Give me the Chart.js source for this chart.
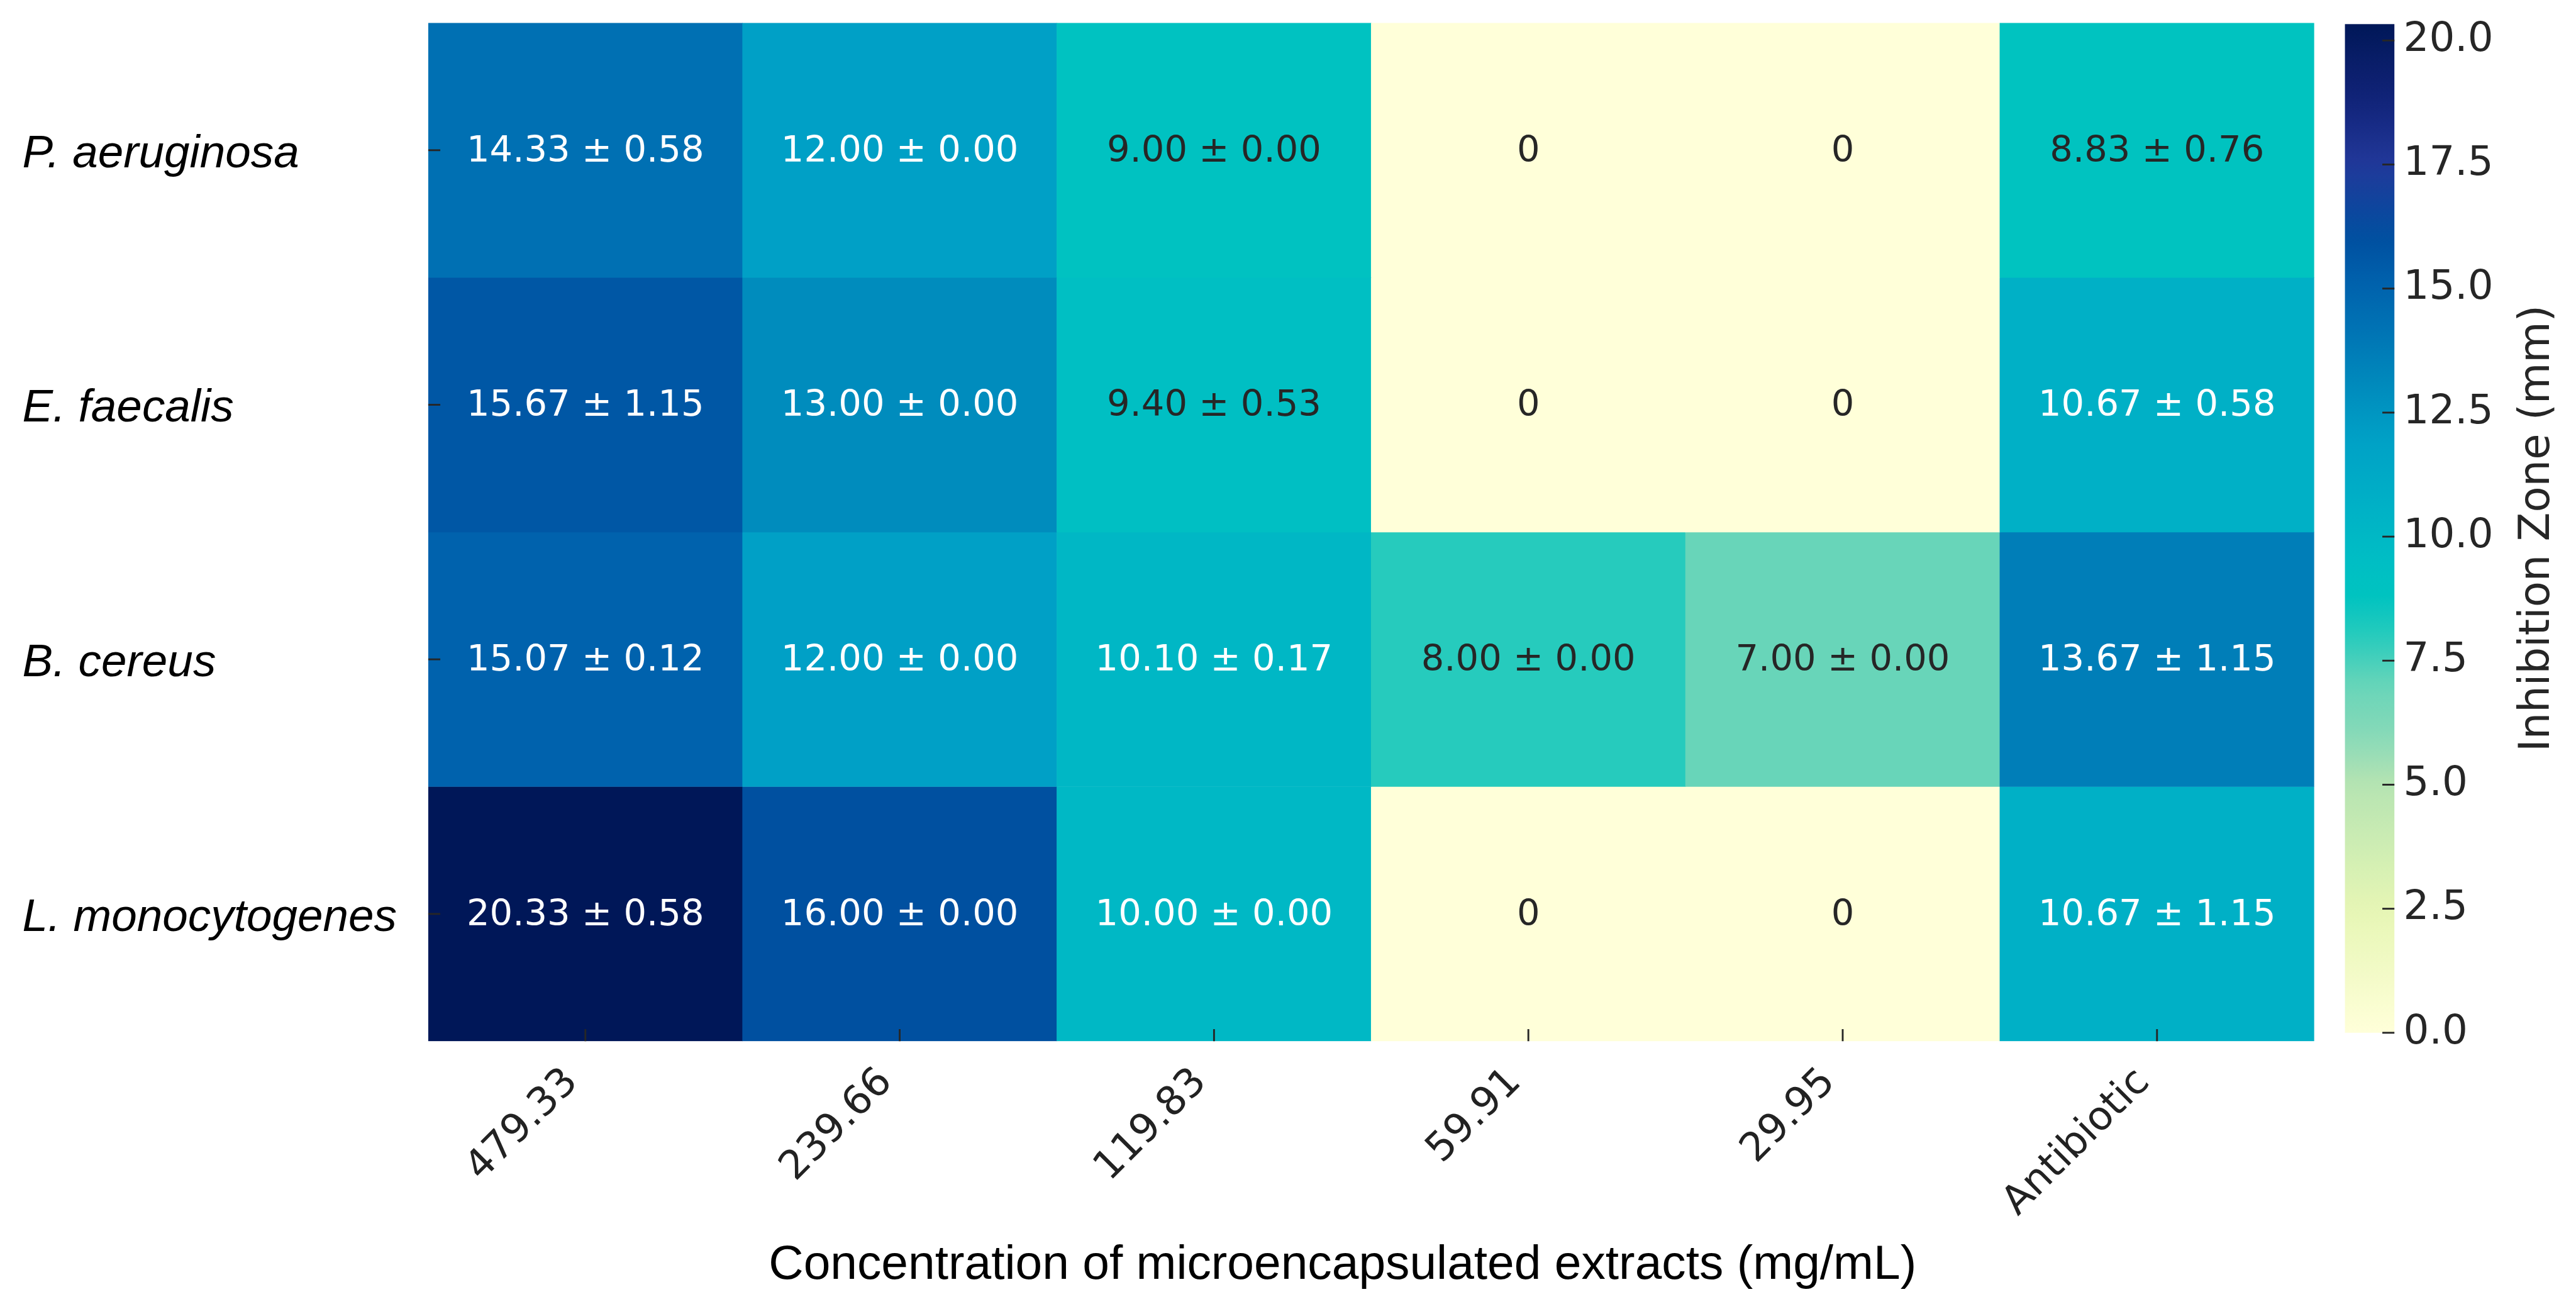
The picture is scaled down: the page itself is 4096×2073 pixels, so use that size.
<!DOCTYPE html>
<html>
<head>
<meta charset="utf-8">
<script src="https://cdn.jsdelivr.net/npm/chart.js"></script>
<style>
	html, body { margin: 0; padding: 0; background: #ffffff; }
	canvas { display: block; }
</style>
</head>
<body>
<canvas id="heatmap" width="4096" height="2073"></canvas>
<script>
// Rows and columns of the heatmap
const strains = ["P. aeruginosa", "E. faecalis", "B. cereus", "L. monocytogenes"];
const concentrations = ["479.33", "239.66", "119.83", "59.91", "29.95", "Antibiotic"];

// Inhibition zone means (mm), one array per strain
const meanPa = [14.33, 12.00, 9.00, 0, 0, 8.83];
const meanEf = [15.67, 13.00, 9.40, 0, 0, 10.67];
const meanBc = [15.07, 12.00, 10.10, 8.00, 7.00, 13.67];
const meanLm = [20.33, 16.00, 10.00, 0, 0, 10.67];

// Standard deviations (null where no zone was measured)
const sdPa = [0.58, 0.00, 0.00, null, null, 0.76];
const sdEf = [1.15, 0.00, 0.53, null, null, 0.58];
const sdBc = [0.12, 0.00, 0.17, 0.00, 0.00, 1.15];
const sdLm = [0.58, 0.00, 0.00, null, null, 1.15];

// Colorbar tick values
const colorbarTicks = [0, 2.5, 5, 7.5, 10, 12.5, 15, 17.5, 20];

const means = [meanPa, meanEf, meanBc, meanLm];
const sds = [sdPa, sdEf, sdBc, sdLm];
const vmax = Math.max(...means.flat());

// everything is laid out in reference pixels, then scaled
const S = 0.959;
const W = 4096, H = 2073;
const area = { left: 710 * S, right: 3837 * S, top: 38 * S, bottom: 1726 * S };
const tickLen = 20 * S;

// colormap (value -> rgb), close to the picture's yellow-green-blue
const colorStops = [
	[0, [255, 255, 217]],
	[2.5, [230, 246, 180]],
	[5, [182, 228, 178]],
	[6, [135, 217, 184]],
	[7, [104, 213, 185]],
	[8, [38, 203, 189]],
	[8.8, [0, 195, 192]],
	[9.5, [0, 190, 196]],
	[10.5, [0, 178, 198]],
	[12, [0, 160, 198]],
	[13, [0, 140, 189]],
	[14.33, [0, 112, 179]],
	[15.2, [0, 96, 172]],
	[16, [0, 80, 160]],
	[17.5, [33, 56, 154]],
	[18.75, [18, 36, 122]],
	[20.33, [0, 23, 88]],
];

function rgbFor(v) {
	if (v <= colorStops[0][0]) return colorStops[0][1];
	for (let i = 1; i < colorStops.length; i++) {
		const [v1, c1] = colorStops[i];
		const [v0, c0] = colorStops[i - 1];
		if (v <= v1) {
			const t = (v - v0) / (v1 - v0);
			return c0.map((c, k) => Math.round(c + (c1[k] - c) * t));
		}
	}
	return colorStops[colorStops.length - 1][1];
}

function colorFor(v) {
	const c = rgbFor(v);
	return `rgb(${c[0]}, ${c[1]}, ${c[2]})`;
}

function luminance(c) {
	const lin = c.map((x) => {
		x = x / 255;
		return x <= 0.03928 ? x / 12.92 : Math.pow((x + 0.055) / 1.055, 2.4);
	});
	return 0.2126 * lin[0] + 0.7152 * lin[1] + 0.0722 * lin[2];
}

function cellText(m, sd) {
	if (sd === null) return "0";
	return `${m.toFixed(2)} \u00b1 ${sd.toFixed(2)}`;
}

// vertical axes: no extra room above/below the plot for their labels
function noEdgePadding(scale) {
	scale.paddingTop = 0;
	scale.paddingBottom = 0;
}

function tickLine(ctx, x1, y1, x2, y2) {
	ctx.beginPath();
	ctx.moveTo(x1, y1);
	ctx.lineTo(x2, y2);
	ctx.stroke();
}

// extra text: annotations, colorbar, rotated labels, axis titles
const heatmapExtras = {
	id: "heatmapExtras",
	afterDraw(chart) {
		const ctx = chart.ctx;
		const x = chart.scales.x;
		const y = chart.scales.y;
		const cb = chart.scales.cb;
		const ca = chart.chartArea;

		// small tick marks, drawn over the cells
		ctx.save();
		ctx.strokeStyle = "#262626";
		ctx.lineWidth = 3 * S;
		concentrations.forEach((c, j) => {
			const tx = x.getPixelForValue(j);
			tickLine(ctx, tx, ca.bottom - tickLen, tx, ca.bottom);
		});
		strains.forEach((s, r) => {
			const ty = y.getPixelForValue(r + 0.5);
			tickLine(ctx, ca.left, ty, ca.left + tickLen, ty);
		});
		ctx.restore();

		// cell annotations
		ctx.save();
		ctx.textAlign = "center";
		ctx.textBaseline = "middle";
		ctx.font = `${60 * S}px "DejaVu Sans"`;
		means.forEach((row, r) => {
			row.forEach((m, j) => {
				ctx.fillStyle = luminance(rgbFor(m)) > 0.4 ? "#262626" : "#ffffff";
				ctx.fillText(cellText(m, sds[r][j]), x.getPixelForValue(j), y.getPixelForValue(r + 0.5) + 3 * S);
			});
		});
		ctx.restore();

		// colorbar
		const cbLeft = 3888 * S, cbRight = 3970 * S;
		const y0 = cb.getPixelForValue(0);
		const y1 = cb.getPixelForValue(vmax);
		const grad = ctx.createLinearGradient(0, y0, 0, y1);
		for (let i = 0; i <= 60; i++) {
			grad.addColorStop(i / 60, colorFor((vmax * i) / 60));
		}
		ctx.save();
		ctx.fillStyle = grad;
		ctx.fillRect(cbLeft, y1, cbRight - cbLeft, y0 - y1);
		ctx.strokeStyle = "#262626";
		ctx.lineWidth = 3 * S;
		colorbarTicks.forEach((t) => {
			const ty = cb.getPixelForValue(t);
			tickLine(ctx, cbRight - tickLen, ty, cbRight, ty);
		});

		// colorbar label
		ctx.translate(4226 * S, (y0 + y1) / 2);
		ctx.rotate(-Math.PI / 2);
		ctx.fillStyle = "#262626";
		ctx.font = `${70 * S}px "DejaVu Sans"`;
		ctx.textAlign = "center";
		ctx.textBaseline = "alphabetic";
		ctx.fillText("Inhibition Zone (mm)", 0, 0);
		ctx.restore();

		// rotated column labels
		ctx.save();
		ctx.fillStyle = "#222222";
		ctx.font = `${66 * S}px "DejaVu Sans"`;
		ctx.textAlign = "right";
		ctx.textBaseline = "alphabetic";
		concentrations.forEach((label, j) => {
			ctx.save();
			ctx.translate(x.getPixelForValue(j) - 10 * S, 1796 * S);
			ctx.rotate(-Math.PI / 4);
			ctx.fillText(label, 0, 0);
			ctx.restore();
		});
		ctx.restore();

		// x axis title
		ctx.save();
		ctx.fillStyle = "#000000";
		ctx.font = `${80 * S}px "Liberation Sans"`;
		ctx.textAlign = "center";
		ctx.textBaseline = "alphabetic";
		ctx.fillText("Concentration of microencapsulated extracts (mg/mL)", 2226 * S, 2120 * S);
		ctx.restore();
	},
};

const ctx = document.getElementById("heatmap").getContext("2d");

const chart = new Chart(ctx, {
	type: "bar",
	data: {
		labels: concentrations,
		datasets: strains.map((s, r) => ({
			label: s,
			data: concentrations.map(() => [r, r + 1]),
			backgroundColor: means[r].map(colorFor),
			borderWidth: 0,
			grouped: false,
			barPercentage: 1,
			categoryPercentage: 1,
		})),
	},
	options: {
		responsive: false,
		animation: false,
		devicePixelRatio: 1,
		layout: {
			padding: { left: 37 * S, top: area.top, right: 0, bottom: 0 },
		},
		plugins: {
			legend: { display: false },
			tooltip: { enabled: false },
		},
		scales: {
			x: {
				type: "category",
				offset: true,
				border: { display: false },
				grid: { display: false, drawTicks: false },
				ticks: { display: false },
				afterFit: (scale) => {
					scale.height = H - area.bottom;
					scale.paddingLeft = 0;
					scale.paddingRight = 0;
				},
			},
			y: {
				type: "linear",
				position: "left",
				min: 0,
				max: strains.length,
				reverse: true,
				stacked: false,
				border: { display: false },
				grid: { display: false, drawTicks: false },
				afterBuildTicks: (axis) => {
					axis.ticks = strains.map((s, i) => ({ value: i + 0.5 }));
				},
				ticks: {
					autoSkip: false,
					crossAlign: "far",
					labelOffset: 7 * S,
					color: "#000000",
					font: { family: "Liberation Sans", style: "italic", size: 76 * S },
					callback: (v) => strains[Math.floor(v)],
				},
				afterFit: (scale) => {
					scale.width = area.left - 37 * S;
					noEdgePadding(scale);
				},
			},
			cb: {
				type: "linear",
				position: "right",
				min: -0.17,
				max: 20.354,
				border: { display: false },
				grid: { display: false, drawTicks: false },
				afterBuildTicks: (axis) => {
					axis.ticks = colorbarTicks.map((v) => ({ value: v }));
				},
				ticks: {
					autoSkip: false,
					padding: 3985 * S - area.right,
					color: "#262626",
					font: { family: "DejaVu Sans", size: 67 * S },
					callback: (v) => v.toFixed(1),
				},
				afterFit: (scale) => {
					scale.width = W - area.right;
					noEdgePadding(scale);
				},
			},
		},
	},
	plugins: [heatmapExtras],
});
</script>
</body>
</html>
